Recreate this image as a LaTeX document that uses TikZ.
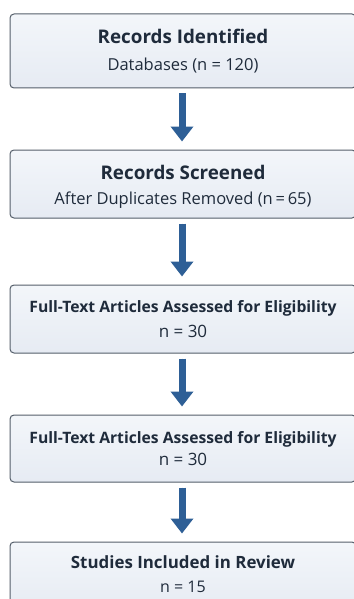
\documentclass[tikz,border=0pt]{standalone}
\usepackage{fontspec}
\setmainfont{Open Sans}
\usetikzlibrary{arrows.meta}

\definecolor{boxtop}{HTML}{F3F6FA}
\definecolor{boxbot}{HTML}{E6EBF3}
\definecolor{boxline}{HTML}{555F6B}
\definecolor{arrowblue}{HTML}{2E5F96}
\definecolor{textnavy}{HTML}{1F2B3B}

\newcommand{\tit}[2]{{\fontsize{#1}{#1}\selectfont\bfseries #2}}
\newcommand{\subtxt}[2]{{\fontsize{#1}{#1}\selectfont #2}}

\begin{document}
\begin{tikzpicture}[x=1pt,y=-1pt,
    etapa/.style={draw=boxline, top color=boxtop, bottom color=boxbot,
      rounded corners=4pt, line width=1pt, minimum width=346pt,
      align=center, text=textnavy, inner sep=0pt,
      font=\fontsize{10}{24}\selectfont},
    seta/.style={line width=7pt, draw=arrowblue, fill=arrowblue,
      -{Triangle[width=22pt,length=15pt]}, shorten <=5pt, shorten >=8pt}]

    % Area da figura
    \useasboundingbox[fill=white] (0,0) rectangle (353,599);

    % Caixas do fluxo
    \node[etapa, minimum height=74pt] (ident) at (183,51)
        {\tit{18.8}{Records Identified}\\[3pt]\subtxt{16.5}{Databases (n = 120)}};
    \node[etapa, minimum height=68pt] (tria) at (183,184)
        {\rule{0pt}{20pt}\tit{18.8}{Records Screened}\\[1pt]\subtxt{16.5}{After Duplicates Removed (n\,=\,65)}};
    \node[etapa, minimum height=68pt] (eleg) at (183,319)
        {\tit{15.7}{Full-Text Articles Assessed for Eligibility}\\[1pt]\subtxt{17}{n = 30}};
    \node[etapa, minimum height=67pt] (eleg2) at (183,448.5)
        {\tit{15.7}{Full-Text Articles Assessed for Eligibility}\\[-2pt]\subtxt{17}{n = 30}};
    \node[etapa, minimum height=70pt] (incl) at (183,577)
        {\tit{16.9}{Studies Included in Review}\\\subtxt{16}{n = 15}\rule[-5pt]{0pt}{5pt}};

    % Setas entre as etapas
    \draw[seta] (ident.south -| 182,0) -- (tria.north -| 182,0);
    \draw[seta] (tria.south -| 182,0) -- (eleg.north -| 182,0);
    \draw[seta] (eleg.south -| 182,0) -- (eleg2.north -| 182,0);
    \draw[seta] (eleg2.south -| 182,0) -- (incl.north -| 182,0);
\end{tikzpicture}
\end{document}
